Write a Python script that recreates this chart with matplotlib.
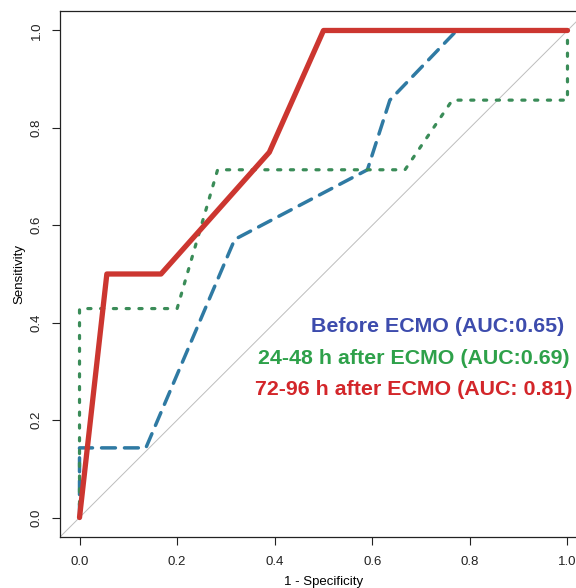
import matplotlib
matplotlib.use("Agg")
import matplotlib.pyplot as plt

plt.rcParams['font.family'] = ['Liberation Sans', 'DejaVu Sans']

# ROC curve data (1 - specificity, sensitivity)
before_fpr = [0.0, 0.0, 0.136, 0.318, 0.59, 0.636, 0.773, 1.0]
before_tpr = [0.0, 0.143, 0.143, 0.571, 0.714, 0.857, 1.0, 1.0]

h24_fpr = [0.0, 0.0, 0.2, 0.283, 0.667, 0.764, 1.0, 1.0]
h24_tpr = [0.0, 0.429, 0.429, 0.714, 0.714, 0.857, 0.857, 1.0]

h72_fpr = [0.0, 0.056, 0.167, 0.389, 0.5, 1.0]
h72_tpr = [0.0, 0.5, 0.5, 0.75, 1.0, 1.0]

legend_labels = ["Before ECMO (AUC:0.65)",
                 "24-48 h after ECMO (AUC:0.69)",
                 "72-96 h after ECMO (AUC: 0.81)"]
legend_colors = ["#3d4cad", "#2ea14a", "#d3262a"]

ticks = [0.0, 0.2, 0.4, 0.6, 0.8, 1.0]
tick_labels = ["0.0", "0.2", "0.4", "0.6", "0.8", "1.0"]

fig = plt.figure(figsize=(5.76, 5.88), dpi=100)
ax = fig.add_axes([60/576, 51/588, 527/576, 526/588])
ax.set_xlim(-0.04, 1.04)
ax.set_ylim(-0.04, 1.04)

# diagonal reference line
ax.plot([-0.04, 1.04], [-0.04, 1.04], color="#bdbdbd", lw=0.7, zorder=1)

ax.plot(before_fpr, before_tpr, color="#2f7aa3", lw=2.5,
        linestyle=(0, (4, 2.6)), dash_capstyle='round', zorder=2)
ax.plot(h24_fpr, h24_tpr, color="#3a8c58", lw=2.3,
        linestyle=(0, (1.0, 3.0)), dash_capstyle='round', zorder=3)
ax.plot(h72_fpr, h72_tpr, color="#cc3630", lw=3.8,
        solid_capstyle='round', solid_joinstyle='round', zorder=4)

ys = [0.392, 0.327, 0.263]
xs = [0.994, 1.004, 1.010]
for lab, col, x, y in zip(legend_labels, legend_colors, xs, ys):
    ax.text(x, y, lab, color=col, fontsize=15.4, fontweight='bold',
            ha='right', va='center')

ax.set_xticks(ticks)
ax.set_xticklabels(tick_labels)
ax.set_yticks(ticks)
ax.set_yticklabels(tick_labels, rotation=90, va='center')
ax.tick_params(direction='out', length=5.5, width=0.8, labelsize=9.5,
               colors='#222222')
ax.tick_params(axis='x', pad=8)
ax.tick_params(axis='y', pad=7)
for s in ax.spines.values():
    s.set_linewidth(0.9)
    s.set_color('#222222')

ax.set_xlabel("1 - Specificity", fontsize=9.5, labelpad=6)
ax.set_ylabel("Sensitivity", fontsize=9.5, labelpad=4)

fig.savefig("out.png", dpi=100)
